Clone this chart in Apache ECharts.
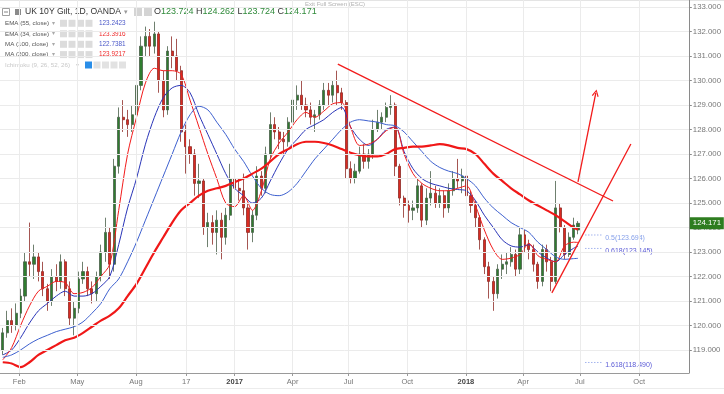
<!DOCTYPE html>
<html>
<head>
<meta charset="utf-8">
<script src="https://cdn.jsdelivr.net/npm/echarts@6/dist/echarts.min.js"></script>
<style>html,body{margin:0;padding:0;background:#fff;}#c{width:724px;height:394px;}</style>
</head>
<body>
<div id="c"></div>
<script>
// ---------- DATA (weekly candles) ----------
const open  = [119.0,119.7,120.2,120.0,120.5,121.2,122.6,122.5,122.8,122.2,121.5,121.0,122.0,121.8,122.6,121.5,120.3,120.7,121.9,122.2,121.5,121.3,122.0,123.0,123.8,122.5,126.5,128.5,128.4,128.2,128.6,129.8,131.4,131.8,131.4,131.9,130.0,128.8,131.2,131.0,130.4,127.9,127.3,127.0,125.8,125.9,124.0,124.2,123.8,124.3,123.6,124.5,126.0,125.6,125.5,124.8,123.8,124.5,126.1,125.6,127.0,128.2,127.9,127.6,127.5,128.3,129.2,129.4,129.0,128.8,128.5,128.6,129.0,129.6,129.4,129.8,129.5,129.1,126.4,126.0,126.3,127.0,126.7,127.0,128.0,128.3,128.5,128.9,129.0,126.5,125.2,124.9,124.7,124.8,125.7,124.3,125.2,125.4,125.0,125.3,124.8,125.5,126.0,125.9,126.1,125.3,124.9,124.4,123.5,122.4,121.8,121.3,122.3,122.5,122.6,122.9,122.3,123.7,123.3,123.1,122.5,121.8,123.1,122.6,121.8,124.8,124.0,122.9,123.6,123.9];
const close = [119.7,120.2,120.0,120.5,121.2,122.6,122.5,122.8,122.2,121.5,121.0,122.0,121.8,122.6,121.5,120.3,120.7,121.9,122.2,121.5,121.3,122.0,123.0,123.8,122.5,126.5,128.5,128.4,128.2,128.6,129.8,131.4,131.8,131.4,131.9,130.0,128.8,131.2,131.0,130.4,127.9,127.3,127.0,125.8,125.9,124.0,124.2,123.8,124.3,123.6,124.5,126.0,125.6,125.5,124.8,123.8,124.5,126.1,125.6,127.0,128.2,127.9,127.6,127.5,128.3,129.2,129.4,129.0,128.8,128.5,128.6,129.0,129.6,129.4,129.8,129.5,129.1,126.4,126.0,126.3,127.0,126.7,127.0,128.0,128.3,128.5,128.9,129.0,126.5,125.2,124.9,124.7,124.8,125.7,124.3,125.2,125.4,125.0,125.3,124.8,125.5,126.0,125.9,126.1,125.3,124.9,124.4,123.5,122.4,121.8,121.3,122.3,122.5,122.6,122.9,122.3,123.7,123.3,123.1,122.5,121.8,123.1,122.6,121.8,124.8,124.0,122.9,123.6,124.1,124.171];
const low   = [118.8,119.5,119.7,119.8,120.3,121.0,122.0,121.9,121.8,121.2,120.6,120.8,121.4,121.5,121.2,120.0,119.6,120.5,121.7,121.2,120.9,121.0,121.8,122.6,121.9,122.2,126.2,127.9,127.7,127.9,128.3,129.6,131.0,131.0,131.1,129.5,128.5,128.6,130.5,130.0,127.5,126.2,126.6,125.3,125.2,123.7,123.2,123.3,122.9,122.7,123.3,124.3,125.2,125.1,124.5,123.1,123.4,124.3,125.3,125.4,126.8,127.6,127.2,127.0,127.3,128.1,128.8,128.8,128.5,128.2,127.9,128.4,128.8,129.0,129.1,129.0,128.8,126.0,125.8,125.8,126.2,126.4,126.4,126.8,127.9,128.0,128.3,128.6,126.1,124.9,124.4,124.2,124.3,124.6,124.0,124.1,124.9,124.8,124.8,124.4,124.6,125.3,125.6,125.4,125.0,124.6,124.0,123.1,122.1,121.1,120.6,121.1,121.9,122.1,122.4,122.0,122.1,123.0,122.7,122.2,121.5,121.6,122.2,121.4,121.7,123.8,122.7,122.8,123.5,123.724];
const high  = [119.9,120.6,120.7,120.9,121.5,123.0,124.2,123.3,123.0,122.6,121.7,122.3,122.5,122.9,122.7,121.8,121.0,122.2,122.6,122.4,121.8,122.2,123.3,124.4,124.0,126.8,128.9,129.2,128.8,129.0,130.0,131.8,132.2,132.1,132.4,132.0,130.4,131.4,131.8,131.7,130.6,128.2,127.6,127.2,126.6,126.0,124.6,124.5,124.7,124.6,124.8,126.6,126.6,126.0,126.2,125.0,124.7,126.5,126.3,127.3,128.7,128.5,128.1,127.9,128.5,129.7,129.8,130.0,129.3,129.1,128.8,129.2,129.9,129.9,130.0,130.4,129.7,129.2,126.7,126.6,127.3,127.4,127.2,128.4,128.8,128.7,129.1,129.4,129.1,126.6,125.3,125.1,125.1,126.0,125.8,125.6,126.3,125.7,125.6,125.5,125.8,126.3,126.8,126.4,126.2,125.5,125.1,124.5,123.6,122.6,122.0,122.5,122.9,123.0,123.2,123.1,124.0,123.9,123.5,123.3,122.6,123.3,123.3,122.8,125.9,125.0,124.1,123.8,124.4,124.262];

// moving averages, read every second week (last value = latest week)
const ema34  = [118.6,119.1,120.0,120.8,121.4,121.6,121.8,121.75,121.3,121.35,121.55,122.0,122.5,124.7,127.0,128.5,129.9,130.5,130.4,130.4,130.25,129.2,128.1,127.0,126.0,125.0,124.85,125.3,124.7,125.5,126.8,127.45,127.9,128.4,128.7,128.5,128.75,129.05,129.1,128.1,127.35,127.4,127.6,127.95,128.1,127.0,126.2,125.8,125.6,125.5,125.5,125.6,125.7,124.9,123.9,123.1,122.7,122.75,122.9,123.35,122.85,122.7,122.6,123.25,123.4,123.39];
const ema55  = [118.8,119.0,119.5,120.1,120.6,120.9,121.2,121.4,121.2,121.2,121.3,121.6,122.0,123.3,124.8,126.0,127.4,128.5,129.3,129.7,129.8,129.5,128.6,127.8,127.0,126.2,125.6,125.3,125.0,125.2,125.9,126.6,127.2,127.6,128.0,128.2,128.4,128.7,128.9,128.1,127.6,127.35,127.6,128.0,128.1,127.1,126.4,126.0,125.8,125.7,125.6,125.55,125.5,125.1,124.5,124.0,123.5,123.25,123.2,123.3,123.0,122.75,122.6,122.9,123.15,123.24];
const ma100  = [118.7,118.8,119.0,119.25,119.45,119.6,119.75,119.85,119.95,120.15,120.5,120.9,121.5,121.9,122.6,123.4,124.3,125.2,126.1,127.0,127.9,128.6,128.95,128.8,128.3,127.8,127.2,126.7,126.1,125.6,125.35,125.3,125.45,125.8,126.3,126.8,127.2,127.6,128.0,128.3,128.4,128.35,128.3,128.2,128.15,127.9,127.5,127.1,126.7,126.45,126.3,126.2,126.0,125.7,125.2,124.8,124.5,124.2,124.0,123.8,123.4,123.1,122.8,122.7,122.73,122.74];
const ma200  = [118.5,118.45,118.3,118.5,118.8,119.0,119.2,119.4,119.5,119.7,119.95,120.2,120.4,120.7,121.2,121.7,122.35,123.0,123.6,124.2,124.7,125.0,125.3,125.5,125.6,125.7,125.85,126.0,126.2,126.4,126.7,127.0,127.2,127.4,127.5,127.5,127.45,127.35,127.2,127.05,126.95,126.9,126.9,127.0,127.2,127.25,127.3,127.3,127.35,127.4,127.35,127.25,127.2,127.0,126.6,126.2,125.9,125.6,125.35,125.1,124.9,124.7,124.5,124.25,124.0,123.92];

// axis ticks
const yTicks     = [119,120,121,122,123,124,125,126,127,128,129,130,131,132,133];
const tickDates  = ['2016-02-01','2016-05-02','2016-08-02','2016-10-20','2017-01-04','2017-04-05','2017-07-02','2017-10-02','2018-01-02','2018-04-02','2018-06-30','2018-10-01'];
const tickLabels = ['Feb','May','Aug','17','2017','Apr','Jul','Oct','2018','Apr','Jul','Oct'];
const boldLabels = ['2017','2018'];

// drawings
const trendDown = [['2017-06-15',130.67],['2018-08-21',125.08]];
const trendUp   = [['2018-05-17',121.33],['2018-09-18',127.41]];
const arrowLine = [['2018-06-27',125.86],['2018-07-25',129.49]];
const fibLevels = [123.694, 123.145, 118.490];
const fibNames  = ['0.5(123.694)','0.618(123.145)','1.618(118.490)'];
const fibColors = ['#86a0ea','#5c5cd6','#5c5cd6'];
const fibSpan   = ['2018-07-08','2018-08-04'];

// legend texts
const titleText = 'UK 10Y Gilt, 1D, OANDA';
const ohlcLetters = ['O','H','L','C'];
const ohlcValues  = ['123.724','124.262','123.724','124.171'];
const indNames  = ['EMA (55, close)','EMA (34, close)','MA (100, close)','MA (200, close)'];
const indValues = ['123.2423','123.3916','122.7381','123.9217'];
const indColors = ['#4b58c8','#ee2a2a','#4b58c8','#ee2a2a'];
const ichimokuName = 'Ichimoku (9, 26, 52, 26)';
const lastPrice = '124.171';

// ---------- BUILD ----------
const DAY = 864e5;
function ts(s){ const p = s.split('-').map(Number); return Date.UTC(p[0], p[1]-1, p[2], 12); }
const FIRST_WEEK = Date.UTC(2016,0,6,12);
const weekTimes = open.map((_, i) => FIRST_WEEK + i * 7 * DAY);
const maIdx = [];
for (let i = 0; i < open.length - 1; i += 2) maIdx.push(i);
maIdx.push(open.length - 1);
const maTimes = maIdx.map(i => weekTimes[i]);
const tickTs = tickDates.map(ts);

const candleData = weekTimes.map((t, i) => [t, open[i], close[i], low[i], high[i]]);
function maSeries(name, arr, color, width) {
  return { name, type: 'line', data: arr.map((v, i) => [maTimes[i], v]), symbol: 'none', smooth: 0.3,
    lineStyle: { color, width }, z: 3, silent: true };
}
function drawLine(pts, color, width) {
  return { type: 'line', data: pts.map(p => [ts(p[0]), p[1]]), symbol: 'none', lineStyle: { color, width }, z: 5, silent: true, clip: false };
}

const font = 'Liberation Sans, Arial, sans-serif';
const graphics = [];
graphics.push({ type: 'rect', shape: { x: 2.5, y: 8.5, width: 7, height: 7 }, style: { fill: '#fff', stroke: '#888', lineWidth: 0.8 } });
graphics.push({ type: 'line', shape: { x1: 4, y1: 12, x2: 8, y2: 12 }, style: { stroke: '#666', lineWidth: 0.8 } });
graphics.push({ type: 'rect', shape: { x: 15, y: 9, width: 6, height: 6 }, style: { fill: '#8a8a8a' } });
graphics.push({ type: 'text', x: 25, y: 12, style: { text: titleText, font: '8.6px ' + font, fill: '#333', verticalAlign: 'middle' } });
graphics.push({ type: 'text', x: 124, y: 12, style: { text: '▾', font: '7px ' + font, fill: '#999', verticalAlign: 'middle' } });
[134, 144].forEach(x => graphics.push({ type: 'rect', shape: { x, y: 8, width: 8, height: 8 }, style: { fill: '#d4d4d4' } }));
graphics.push({ type: 'text', x: 154, y: 12, style: {
  text: ohlcLetters.map((l, i) => '{l|' + l + '}{v|' + ohlcValues[i] + '}').join('{l| }'),
  verticalAlign: 'middle',
  rich: { l: { font: '9px ' + font, fill: '#333' }, v: { font: '9px ' + font, fill: '#2f8a3a' } } } });
const rowY = [23.3, 33.8, 44.3, 54.6];
indNames.forEach((n, i) => {
  const y = rowY[i];
  graphics.push({ type: 'text', x: 5, y, style: { text: n, font: '6.2px ' + font, fill: '#555', verticalAlign: 'middle' } });
  graphics.push({ type: 'text', x: 52, y, style: { text: '▾', font: '6px ' + font, fill: '#aaa', verticalAlign: 'middle' } });
  [60, 68.5, 77, 85.5].forEach(x => graphics.push({ type: 'rect', shape: { x, y: y - 3.5, width: 7, height: 7 }, style: { fill: '#dcdcdc' } }));
  graphics.push({ type: 'text', x: 99, y, style: { text: indValues[i], font: '6.4px ' + font, fill: indColors[i], verticalAlign: 'middle' } });
});
graphics.push({ type: 'text', x: 5, y: 65, style: { text: ichimokuName, font: '6.2px ' + font, fill: '#c8c8c8', verticalAlign: 'middle' } });
graphics.push({ type: 'text', x: 76, y: 65, style: { text: '▾', font: '6px ' + font, fill: '#ccc', verticalAlign: 'middle' } });
graphics.push({ type: 'rect', shape: { x: 85, y: 61.5, width: 7, height: 7 }, style: { fill: '#2a8ee8' } });
[93.5, 102, 110.5, 119].forEach(x => graphics.push({ type: 'rect', shape: { x, y: 61.5, width: 7, height: 7 }, style: { fill: '#e2e2e2' } }));
graphics.push({ type: 'text', x: 335, y: 4, style: { text: 'Exit Full Screen (ESC)', font: '6px ' + font, fill: '#b0b0b0', align: 'center', verticalAlign: 'middle' } });
graphics.push({ type: 'line', shape: { x1: 0, y1: 0.5, x2: 724, y2: 0.5 }, style: { stroke: '#e4e4e4', lineWidth: 1 } });
graphics.push({ type: 'line', shape: { x1: 0, y1: 388.5, x2: 724, y2: 388.5 }, style: { stroke: '#ececec', lineWidth: 1 } });

const series = [
  { type: 'line', data: [], z: 0, silent: true,
    markLine: { silent: true, symbol: 'none', label: { show: false },
      lineStyle: { color: '#ebebeb', width: 1, type: 'solid' },
      data: tickTs.map(t => ({ xAxis: t })).concat(yTicks.map(v => ({ yAxis: v }))) } },
  { type: 'candlestick', data: candleData, encode: { x: 0, y: [1, 2, 3, 4] }, barWidth: 2.6, z: 2,
    itemStyle: { color: '#2f7d2f', color0: '#d92b22', borderColor: '#4a604a', borderColor0: '#8e2b26', borderWidth: 0.8 } },
  maSeries('EMA55', ema55, '#2a35b8', 1),
  maSeries('EMA34', ema34, '#f21b1b', 1),
  maSeries('MA100', ma100, '#3d60cf', 1),
  maSeries('MA200', ma200, '#f01818', 2.2),
  drawLine(trendDown, '#f21b1b', 1.3),
  drawLine(trendUp, '#f21b1b', 1.3),
  { type: 'lines', coordinateSystem: 'cartesian2d', z: 5, silent: true,
    symbol: ['none', 'path://M0,10 L5,0 L10,10 L8.4,10.8 L5,3.2 L1.6,10.8 Z'], symbolSize: 7,
    lineStyle: { color: '#f21b1b', width: 1.3, opacity: 1 },
    data: [{ coords: arrowLine.map(p => [ts(p[0]), p[1]]) }] }
];
fibLevels.forEach((lv, i) => {
  series.push({ type: 'line', data: fibSpan.map(d => [ts(d), lv]), symbol: 'none', silent: true, z: 4, clip: false,
    lineStyle: { color: '#8ea2ea', width: 0.8, type: [1.5, 1.5] },
    endLabel: { show: true, formatter: fibNames[i], color: fibColors[i], fontSize: 7, fontFamily: font, distance: 3, offset: [0, 3] } });
});

const chart = echarts.init(document.getElementById('c'), null, { renderer: 'canvas' });
chart.setOption({
  animation: false,
  backgroundColor: '#ffffff',
  textStyle: { fontFamily: font },
  grid: { left: 0, right: 35, top: 0, bottom: 21 },
  xAxis: {
    type: 'value', min: Date.UTC(2016,0,2,4,15), max: Date.UTC(2018,11,18,11,15),
    axisLine: { show: true, lineStyle: { color: '#9a9a9a', width: 1.2 } },
    axisTick: { show: true, customValues: tickTs, length: 3, lineStyle: { color: '#9a9a9a' } },
    axisLabel: { customValues: tickTs, fontSize: 7.5, color: '#777', margin: 5,
      formatter: v => { const k = tickTs.indexOf(v); const s = k >= 0 ? tickLabels[k] : ''; return boldLabels.includes(s) ? '{b|' + s + '}' : s; },
      rich: { b: { fontWeight: 'bold', color: '#444', fontSize: 7.5 } } },
    splitLine: { show: false }
  },
  yAxis: {
    type: 'value', position: 'right', min: 118.0612, max: 133.2857,
    axisLine: { show: true, lineStyle: { color: '#8a8a8a' } },
    axisTick: { show: true, customValues: yTicks, length: 3, lineStyle: { color: '#8a8a8a' } },
    axisLabel: { customValues: yTicks, formatter: v => v.toFixed(3), fontSize: 7.8, color: '#777', margin: 4 },
    splitLine: { show: false }
  },
  graphic: graphics,
  series
});
// last-price tag on the price axis, placed through the y scale
const tagY = chart.convertToPixel({ yAxisIndex: 0 }, close[close.length - 1]);
const tagX = chart.convertToPixel({ xAxisIndex: 0 }, Date.UTC(2018,11,18,11,15));
chart.setOption({ graphic: graphics.concat([
  { type: 'rect', shape: { x: tagX + 1, y: tagY - 6, width: 34, height: 12 }, style: { fill: '#2e7d1f' }, z: 100 },
  { type: 'text', x: tagX + 4, y: tagY, style: { text: lastPrice, font: '7.8px ' + font, fill: '#fff', verticalAlign: 'middle' }, z: 101 }
]) });
</script>
</body>
</html>
